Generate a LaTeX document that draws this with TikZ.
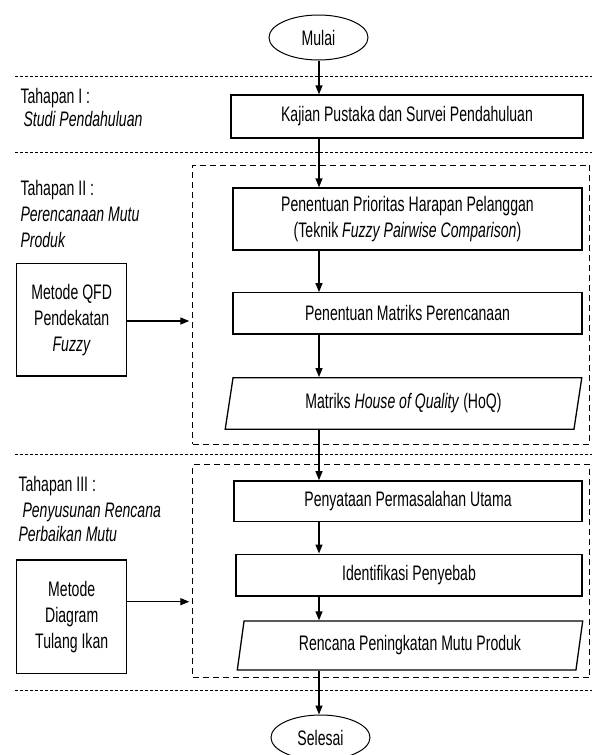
\documentclass[tikz,border=0pt]{standalone}
\usepackage{fontspec}
\setmainfont{Liberation Sans}[FakeStretch=0.67]
\usetikzlibrary{shapes,arrows.meta,positioning,calc}

\begin{document}
\begin{tikzpicture}[x=1pt, y=-1pt,
    every node/.style={font=\fontsize{21}{26}\selectfont},
    stepbox/.style={draw, line width=1.3pt, fill=white, align=center, inner sep=0pt},
    iobox/.style={stepbox, trapezium, trapezium stretches=true,
        trapezium left angle=77, trapezium right angle=103},
    terminal/.style={draw, line width=1pt, ellipse, fill=white, inner sep=0pt,
        minimum width=99pt, minimum height=45pt},
    stagebox/.style={draw, line width=1pt, dash pattern=on 6pt off 4pt, inner sep=0pt},
    divider/.style={line width=0.5pt, dash pattern=on 3pt off 2pt},
    arr/.style={line width=1.3pt, -{Triangle[length=9pt,width=7pt]}}]
        \useasboundingbox (0,0) rectangle (592,755);
        % Stage dividers
        \foreach \yy in {76,152.5,454,690}
            \draw[divider] (15,\yy) -- (592,\yy);
        % Stage frames
        \node[stagebox, minimum width=397pt, minimum height=279pt] (stII) at (391.3,304.5) {};
        \node[stagebox, minimum width=397pt, minimum height=212.7pt] (stIII) at (391.3,571.3) {};
        % Stage labels
        \node[anchor=base west, align=left] (lblI) at (17,126)
            {Tahapan I :\\[-3.3pt]\hspace*{3pt}\textit{Studi Pendahuluan}};
        \node[anchor=base west, align=left] (lblII) at (17,247)
            {Tahapan II :\\\textit{Perencanaan Mutu}\\\textit{Produk}};
        \node[anchor=base west, align=left] (lblIII) at (15,541)
            {Tahapan III :\\\hspace*{4pt}\textit{Penyusunan Rencana}\\[-2pt]\textit{Perbaikan Mutu}};
        % Flow
        \coordinate (spine) at (319,0);
        \node[terminal] (mulai) at (318.5,37.5) {Mulai};
        \node[stepbox, minimum width=352pt, minimum height=43pt] (kajian) at (407,116.5)
            {Kajian Pustaka dan Survei Pendahuluan};
        \node[stepbox, minimum width=349pt, minimum height=62pt] (prioritas) at (407.5,219)
            {Penentuan Prioritas Harapan Pelanggan\\(Teknik \textit{Fuzzy Pairwise Comparison})};
        \node[stepbox, minimum width=349pt, minimum height=41.3pt] (matriks) at (407.5,313.4)
            {Penentuan Matriks Perencanaan};
        \node[iobox, minimum width=357pt, minimum height=51.6pt] (hoq) at (403.5,403.5)
            {Matriks \textit{House of Quality} (HoQ)};
        \node[stepbox, minimum width=348pt, minimum height=40.3pt] (masalah) at (408,501)
            {Penyataan Permasalahan Utama};
        \node[stepbox, minimum width=346pt, minimum height=41.7pt] (penyebab) at (409,575)
            {Identifikasi Penyebab};
        \node[iobox, minimum width=346pt, minimum height=49pt] (rencana) at (410,645.5)
            {Rencana Peningkatan Mutu Produk};
        \node[terminal] (selesai) at (320.5,737.5) {Selesai};
        % Methods
        \node[stepbox, minimum width=110pt, minimum height=112.7pt] (qfd) at (71.7,319.7)
            {Metode QFD\\Pendekatan\\\textit{Fuzzy}};
        \node[stepbox, minimum width=110pt, minimum height=113.3pt] (tulang) at (71.7,616.7)
            {Metode\\Diagram\\Tulang Ikan};
        % Arrows
        \draw[arr] (mulai.south -| spine) -- (kajian.north -| spine);
        \draw[arr] (kajian.south -| spine) -- (prioritas.north -| spine);
        \draw[arr] (prioritas.south -| spine) -- (matriks.north -| spine);
        \draw[arr] (matriks.south -| spine) -- (hoq.north -| spine);
        \draw[arr] (hoq.south -| spine) -- (masalah.north -| spine);
        \draw[arr] (masalah.south -| spine) -- (penyebab.north -| spine);
        \draw[arr] (penyebab.south -| spine) -- (rencana.north -| spine);
        \draw[arr] (rencana.south -| spine) -- (selesai.north -| spine);
        \coordinate (inII) at (0,321);
        \coordinate (inIII) at (0,601.7);
        \draw[arr] (qfd.east |- inII) -- ([xshift=-3pt]stII.west |- inII);
        \draw[arr] (tulang.east |- inIII) -- ([xshift=-3pt]stIII.west |- inIII);
    \end{tikzpicture}
\end{document}
